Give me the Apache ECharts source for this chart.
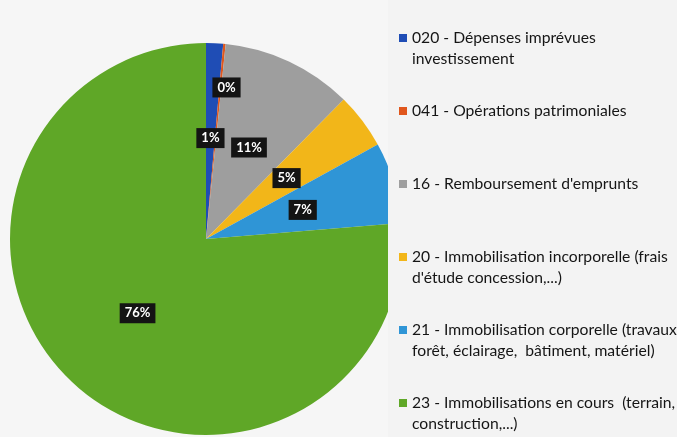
<!DOCTYPE html>
<html>
<head>
<meta charset="utf-8">
<script src="https://cdn.jsdelivr.net/npm/echarts@6/dist/echarts.min.js"></script>
<style>
  html, body { margin: 0; padding: 0; background: #f6f6f6; }
  #chart { width: 677px; height: 437px; }
</style>
</head>
<body>
<div id="chart"></div>
<script>
// catégories (avec retour à la ligne comme dans la légende)
const categories = [
  "020 - Dépenses imprévues\ninvestissement",
  "041 - Opérations patrimoniales",
  "16 - Remboursement d'emprunts",
  "20 - Immobilisation incorporelle (frais\nd'étude concession,...)",
  "21 - Immobilisation corporelle (travaux\nforêt, éclairage,  bâtiment, matériel)",
  "23 - Immobilisations en cours  (terrain,\nconstruction,...)"
];
const values = [1.4, 0.2, 10.8, 4.6, 6.7, 76.3];
const colors = ["#1f4db5", "#e0561c", "#9e9e9e", "#f2b619", "#2f95d6", "#5fa727"];

const myChart = echarts.init(document.getElementById("chart"));

const option = {
  backgroundColor: "#f6f6f6",
  color: colors,
  animation: false,
  graphic: [
    {
      // panneau de la légende qui coupe le camembert à droite
      type: "rect",
      left: 388,
      top: 0,
      z: 3,
      shape: { width: 289, height: 437 },
      style: { fill: "#f3f3f3" }
    }
  ],
  legend: {
    orient: "vertical",
    left: 399,
    top: 6.5,
    padding: 0,
    itemWidth: 8,
    itemHeight: 8,
    itemGap: 10,
    icon: "rect",
    z: 5,
    data: categories,
    // texte riche : toutes les entrées sur 2 lignes, 1re ligne au niveau du carré
    formatter: function (name) {
      const lines = name.split("\n");
      if (lines.length < 2) lines.push(" ");
      return lines.map((l) => "{t|" + l + "}").join("\n");
    },
    textStyle: {
      lineHeight: 21,
      padding: [21, 0, 0, 0],
      rich: {
        t: {
          fontFamily: "Lato",
          fontSize: 15.7,
          color: "#151515",
          lineHeight: 21
        }
      }
    }
  },
  series: [
    {
      type: "pie",
      center: [206, 239],
      radius: 196,
      startAngle: 90,
      clockwise: true,
      data: categories.map((c, i) => ({ name: c, value: values[i] })),
      itemStyle: { borderWidth: 0 },
      label: {
        show: true,
        position: "inside",
        formatter: (p) => Math.round(p.percent) + "%",
        backgroundColor: "#141414",
        color: "#fff",
        fontFamily: "Lato",
        fontWeight: "bold",
        fontSize: 13,
        padding: [4, 5, 3, 5]
      },
      labelLayout: function (p) {
        // l'étiquette 0% est sortie vers le bord
        if (p.dataIndex === 1) return { dx: 11, dy: -51 };
        return {};
      },
      emphasis: { disabled: true }
    }
  ]
};

myChart.setOption(option);
window.addEventListener("resize", function () {
  myChart.resize();
});
</script>
</body>
</html>
